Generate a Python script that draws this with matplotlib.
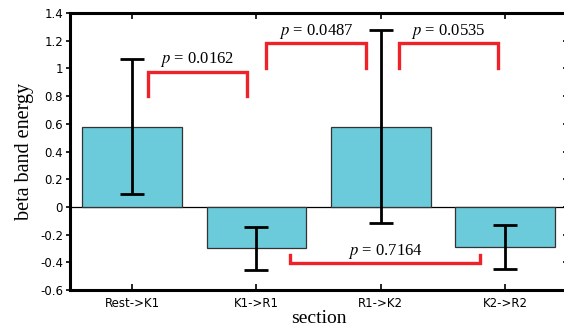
import matplotlib.pyplot as plt
import numpy as np

plt.rcParams['mathtext.fontset'] = 'stix'

# data
sections = ['Rest->K1', 'K1->R1', 'R1->K2', 'K2->R2']
means = [0.58, -0.30, 0.58, -0.29]
errors = [0.49, 0.155, 0.695, 0.16]

# significance brackets: (x_left, x_right, y_line, y_leg_end)
brackets = [
    (1.13, 1.92, 0.975, 0.80),
    (2.08, 2.88, 1.18, 1.00),
    (3.15, 3.94, 1.18, 1.00),
    (2.27, 3.80, -0.405, -0.35),
]
p_values = ['0.0162', '0.0487', '0.0535', '0.7164']

fig = plt.figure(figsize=(5.64, 3.29), dpi=100)
ax = fig.add_axes([0.124, 0.1185, 0.882, 0.842])

x = np.arange(1, len(sections) + 1)
ax.bar(x, means, width=0.8, color='#6BCBDB', edgecolor='#333333', linewidth=0.9, zorder=2)
ax.errorbar(x, means, yerr=errors, fmt='none', ecolor='black', elinewidth=2.0,
            capsize=8.5, capthick=2.0, zorder=3)
ax.axhline(0, color='black', linewidth=0.9, zorder=1)

red = '#EE2229'
for (x0, x1, yl, ye), pv in zip(brackets, p_values):
    ax.plot([x0, x0, x1, x1], [ye, yl, yl, ye], color=red, linewidth=2.4,
            solid_joinstyle='miter', zorder=4)
    ty = yl + 0.09 if yl > 0 else yl + 0.08
    ax.text((x0 + x1) / 2, ty, r'$p$ = ' + pv, ha='center', va='center',
            fontsize=12, family='Liberation Serif', zorder=5)

yt = np.round(np.arange(-0.6, 1.41, 0.2), 1)
ax.set_xlim(0.5, 4.5)
ax.set_ylim(-0.6, 1.4)
ax.set_yticks(yt)
ax.set_yticklabels([f'{v:g}' if v != 0 else '0' for v in yt])
ax.set_xticks(x)
ax.set_xticklabels(sections)

for s in ax.spines.values():
    s.set_linewidth(2.2)
ax.tick_params(axis='y', direction='out', length=3, width=1.2, labelsize=8.5, pad=2)
ax.tick_params(axis='x', direction='in', length=4, width=1.2, top=True, labelsize=8.5, pad=5)
sec = ax.secondary_yaxis('right')
sec.set_yticks(yt)
sec.tick_params(direction='in', length=3, width=1.2, labelright=False)
sec.spines['right'].set_linewidth(2.2)

ax.set_xlabel('section', fontsize=14, family='Liberation Serif', labelpad=0)
ax.set_ylabel('beta band energy', fontsize=14.5, family='Liberation Serif', labelpad=4)

fig.savefig('out.png', dpi=100)
